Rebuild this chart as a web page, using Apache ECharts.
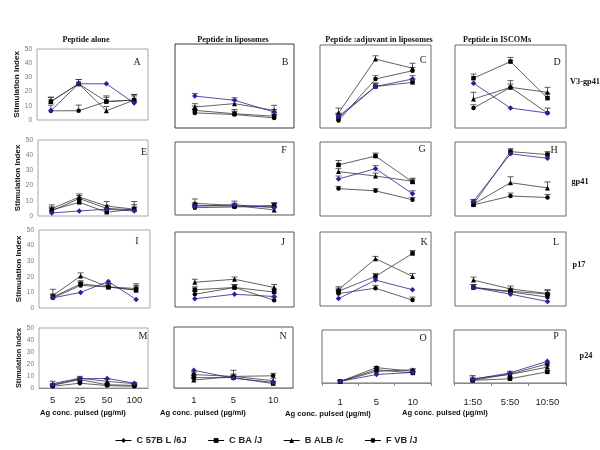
<!DOCTYPE html>
<html><head><meta charset="utf-8">
<script src="https://cdn.jsdelivr.net/npm/echarts@6/dist/echarts.min.js"></script>
<style>html,body{margin:0;padding:0;background:#fff}#c{width:600px;height:450px}</style>
</head><body><div id="c"></div>
<script>
// ---- data ----
var seriesNames = ['C 57B L /6J', 'C BA /J', 'B ALB /c', 'F VB /J'];
var catsAlone = ['5', '25', '50', '100'];
var catsLipo = ['1', '5', '10'];
var catsAdj = ['1', '5', '10'];
var catsIscom = ['1:50', '5:50', '10:50'];
var columnTitles = ['Peptide alone', 'Peptide in liposomes', 'Peptide :adjuvant in liposomes', 'Peptide in ISCOMs'];
var rowLabels = ['V3-gp41', 'gp41', 'p17', 'p24'];
var panelLetters = ['A','B','C','D','E','F','G','H','I','J','K','L','M','N','O','P'];
var xTitle = 'Ag conc. pulsed (µg/ml)';
var yTitle = 'Stimulation Index';

// order of rows inside each panel: C57BL/6J, CBA/J, BALB/c, FVB/J
var pA = [[6.5,25.5,25.5,12],[13,25.5,13,14],[13,25.5,6.5,14],[6.5,6.5,13,14]];
var eA = [[0,0,0,1],[3,3,4,4],[3,3,3,4],[4,4,3,3]];
var pB = [[19,16.5,9.5],[10.5,8.5,7],[12.5,14.5,10.5],[9,8,6]];
var eB = [[1.5,1.5,1.5],[2.5,2.5,2],[2,2,3],[2,2,2]];
var pC = [[7,25,29.5],[6,25,27.5],[9,41.5,36],[4.5,29.5,34.5]];
var eC = [[2,2,2],[2,2,2],[3,2,3],[4,2,2]];
var pD = [[27,12,9],[30,40,18],[17.5,24.5,21.5],[12,24.5,9]];
var eD = [[0,0,0],[2.5,2.5,3],[4,4,3],[2,2,3]];
var pE = [[2,3.3,4.5,3.3],[4,9,2.5,4.5],[4.8,12.5,6.5,4.5],[3.3,11.5,5,4]];
var eE = [[0,0,0,0],[2,2,2,3],[2.5,2,3,5],[2,2,2,2]];
var pF = [[6,7,5],[6.5,6,6.5],[8,6.5,3.5],[5,5.5,6]];
var eF = [[0,0,0],[2,2,2],[3,3,2],[2,2,2]];
var pG = [[25,32,15],[34.5,40.5,23],[30,27,23.5],[18.5,17,11]];
var eG = [[2,2,2],[3,2,2],[2,2,2],[1.5,1.5,1.5]];
var pH = [[10,42,39],[8,43.5,41.5],[8,22.5,19],[7.5,13.5,12.5]];
var eH = [[0,0,0],[3,2,2],[3,4,4],[2,2,2]];
var pI = [[6.5,10,17,5.5],[7,15.5,13.5,11.5],[8,20.5,13.5,11.5],[6.5,14.5,13.5,12.5]];
var eI = [[0,0,0,0],[2,2,2,2],[4,2,2,4],[2,2,2,2]];
var pJ = [[5.5,8.5,7],[11.5,13,10],[16.5,18.5,13],[8.5,13,4.5]];
var eJ = [[0,0,0],[2,2,2],[2,1.5,2],[2,2,2]];
var pK = [[5,17.5,11],[10,20,35.5],[11,32,20],[8.5,12,4]];
var eK = [[0,0,0],[2,2,2],[2,1.5,2],[2,2,2]];
var pL = [[12.5,8,3],[12.5,10,8],[17.5,11.5,8.5],[12.5,9.5,6]];
var eL = [[0,0,0],[2,2,3],[2,2,2],[2,2,2]];
var pM = [[2.7,7.7,8,4],[2.2,7,2.7,2.2],[3.6,8.2,5.5,3.6],[1.4,4,2,1.4]];
var eM = [[0,0,0,0],[1,1.5,1,1],[2,1.5,1.5,1],[1,1,1,1]];
var pN = [[14.5,8,4.6],[8.5,8.5,3.6],[6.5,9.5,6],[11,9.5,10]];
var eN = [[0,0,0],[2,2,2],[2,5,2],[2,2,2]];
var pO = [[1.5,8,10],[1.5,12.5,9.5],[1.5,11,12.5],[1.5,14.5,11]];
var eO = [[0,0,0],[1,1,1],[1,1,1],[1,1,1.5]];
var pP = [[3.5,9.5,20.5],[2.5,4,10.5],[4,8,15],[2.5,8.5,18]];
var eP = [[0,0,0],[3,1,1],[3,3,1],[1,1,1]];

// ---- assembly ----
var panelVals = [pA,pB,pC,pD,pE,pF,pG,pH,pI,pJ,pK,pL,pM,pN,pO,pP];
var panelErrs = [eA,eB,eC,eD,eE,eF,eG,eH,eI,eJ,eK,eL,eM,eN,eO,eP];
var colCats = [catsAlone, catsLipo, catsAdj, catsIscom];

// grid boxes: left, top, width, height, border colour
var boxes = [
  [37,49,111,71,'#a8a8a8'],[175,44,119,84,'#3a3a3a'],[320,45,111,83,'#6a6a6a'],[455,45,111,83,'#6a6a6a'],
  [38,140,110,76,'#a8a8a8'],[175,142,119,73,'#555'],[320,142,111,74,'#6a6a6a'],[455,142,111,74,'#6a6a6a'],
  [39,230,111,78,'#a8a8a8'],[175,232,119,75,'#555'],[320,232,111,74,'#6a6a6a'],[455,232,111,74,'#6a6a6a'],
  [39,328,109,60,'#a8a8a8'],[174,327,119,61,'#555'],[322,330,109,53,'#6a6a6a'],[454,330,112,53,'#6a6a6a']
];
var letterPos = [[137,62],[285,62],[423,60],[557,62],[144,152],[284,150],[422,149],[554,150],
                 [137,241],[283,242],[424,242],[556,242],[143,336],[283,336],[423,338],[556,336]];
var titlePos = [[86,40],[233,40],[379,40],[497,40]];
var rowLabelPos = [[585,82],[580,182],[579,265],[586,356]];
var xTitlePos = [[83,413],[203,413],[328,414],[445,413]];
var yNameSize = [8,8,8,7.2];

var BLUE = '#23239c';
var symbols = ['diamond','rect','triangle','circle'];
var symSizes = [5.5,4.5,5,4.5];
var SANS = '"Liberation Sans", Arial, sans-serif';
var SERIF = '"Liberation Serif", "Times New Roman", serif';

var grids = [], xAxes = [], yAxes = [], series = [], graphic = [];
for (var p = 0; p < 16; p++) {
  var r = Math.floor(p / 4), c = p % 4, b = boxes[p];
  grids.push({left:b[0], top:b[1], width:b[2], height:b[3], show:true, borderColor:b[4], borderWidth:1, containLabel:false});
  var bottom = r === 3;
  xAxes.push({
    type:'category', gridIndex:p, data:colCats[c], boundaryGap:true, show:bottom,
    offset: (bottom && c >= 2) ? 7 : 0,
    axisLine:{show:bottom, lineStyle:{color:'#8a8a8a', width:1}},
    axisTick:{show:bottom && c >= 2, length:3, lineStyle:{color:'#8a8a8a'}},
    axisLabel:{show:bottom, fontSize:9.5, color:'#222', fontFamily:SANS, margin:(c >= 2 ? 7 : 7)},
    splitLine:{show:false}
  });
  yAxes.push({
    type:'value', gridIndex:p, min:0, max:50, interval:10,
    axisLine:{show:false}, axisTick:{show:false}, splitLine:{show:false},
    axisLabel:{show:c === 0, fontSize:6.5, color:'#777', fontFamily:SANS, margin:5},
    name: c === 0 ? yTitle : '', nameLocation:'middle', nameGap:14, nameRotate:90,
    nameTextStyle:{fontSize:yNameSize[r], fontWeight:'bold', color:'#111', fontFamily:SANS}
  });
  var vals = panelVals[p], errs = panelErrs[p];
  var errData = [];
  for (var s = 0; s < 4; s++) {
    series.push({
      type:'line', name:seriesNames[s], xAxisIndex:p, yAxisIndex:p, data:vals[s],
      symbol:symbols[s], symbolSize:symSizes[s], showSymbol:true,
      lineStyle:{color: s === 0 ? BLUE : '#3a3a3a', width:0.8},
      itemStyle:{color: s === 0 ? BLUE : '#000'},
      z: s === 0 ? 3 : 2, silent:true
    });
    for (var i = 0; i < vals[s].length; i++) {
      if (errs[s][i] > 0) errData.push([i, vals[s][i], errs[s][i]]);
    }
  }
  series.push({
    type:'custom', xAxisIndex:p, yAxisIndex:p, data:errData, silent:true, z:1,
    encode:{x:0, y:1},
    renderItem:function (params, api) {
      var x = api.value(0), v = api.value(1), e = api.value(2);
      var p0 = api.coord([x, v]), p1 = api.coord([x, v + e]);
      var st = {stroke:'#333', lineWidth:0.8};
      return {type:'group', children:[
        {type:'line', shape:{x1:p0[0], y1:p0[1], x2:p1[0], y2:p1[1]}, style:st},
        {type:'line', shape:{x1:p1[0]-3, y1:p1[1], x2:p1[0]+3, y2:p1[1]}, style:st}
      ]};
    }
  });
  graphic.push({type:'text', x:letterPos[p][0], y:letterPos[p][1],
    style:{text:panelLetters[p], font:'10px ' + SERIF, fill:'#222', textAlign:'center', textVerticalAlign:'middle', align:'center', verticalAlign:'middle'}});
}
for (var k = 0; k < 4; k++) {
  graphic.push({type:'text', x:titlePos[k][0], y:titlePos[k][1],
    style:{text:columnTitles[k], font:'bold 8.2px ' + SERIF, fill:'#111', textAlign:'center', textVerticalAlign:'middle', align:'center', verticalAlign:'middle'}});
  graphic.push({type:'text', x:rowLabelPos[k][0], y:rowLabelPos[k][1],
    style:{text:rowLabels[k], font:'bold 8.3px ' + SERIF, fill:'#111', textAlign:'center', textVerticalAlign:'middle', align:'center', verticalAlign:'middle'}});
  graphic.push({type:'text', x:xTitlePos[k][0], y:xTitlePos[k][1],
    style:{text:xTitle, font:'bold 7.6px ' + SANS, fill:'#111', textAlign:'center', textVerticalAlign:'middle', align:'center', verticalAlign:'middle'}});
}

var chart = echarts.init(document.getElementById('c'), null, {renderer:'canvas'});
chart.setOption({
  animation:false,
  backgroundColor:'#fff',
  grid:grids, xAxis:xAxes, yAxis:yAxes, series:series, graphic:graphic,
  legend:{
    left:110, top:431, itemWidth:16, itemHeight:6, itemGap:21,
    textStyle:{fontSize:9.3, fontWeight:'bold', color:'#222', fontFamily:SANS},
    data:seriesNames.map(function (n) { return {name:n, itemStyle:{color:'#000'}, lineStyle:{color:'#000', width:1}}; })
  }
});
</script></body></html>
